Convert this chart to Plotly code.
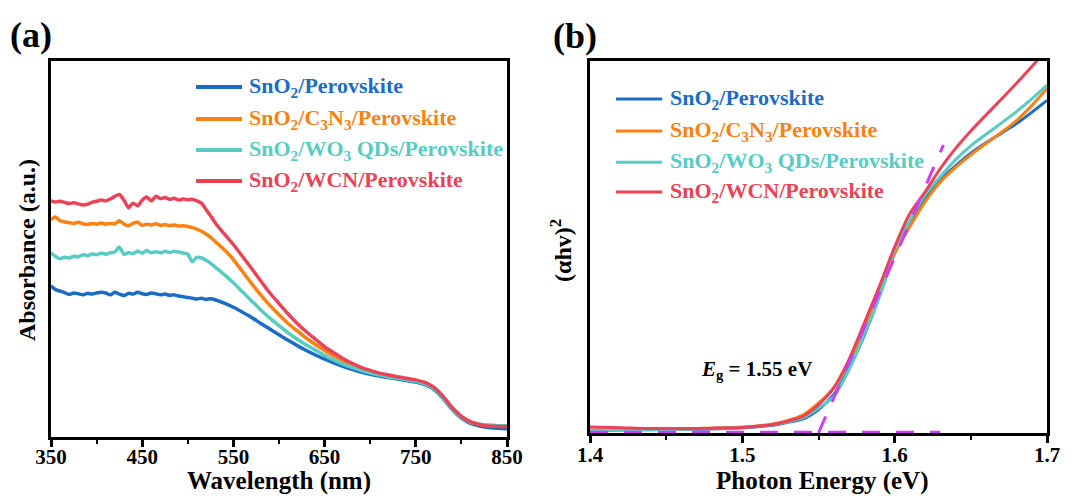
import plotly.graph_objects as go

# ---------------- data ----------------
# (a) UV-vis absorbance spectra
wavelength = [350, 355, 360, 365, 370, 375, 380, 385, 390, 395, 400, 405, 410, 415, 420,
              425, 430, 435, 440, 445, 450, 455, 460, 465, 470, 475, 480, 485, 490, 495,
              500, 505, 510, 515, 520, 525, 530, 540, 550, 560, 570, 580, 590, 600, 610,
              620, 630, 640, 650, 660, 670, 680, 690, 700, 710, 720, 730, 740, 750, 760,
              770, 780, 790, 800, 810, 820, 830, 840, 850]

abs_sno2 = [0.402, 0.392, 0.388, 0.384, 0.379, 0.383, 0.381, 0.378, 0.382, 0.380, 0.383, 0.385,
            0.383, 0.378, 0.385, 0.380, 0.376, 0.382, 0.380, 0.385, 0.381, 0.379, 0.383, 0.381,
            0.378, 0.380, 0.377, 0.378, 0.375, 0.373, 0.371, 0.369, 0.367, 0.369, 0.366, 0.368,
            0.365, 0.356, 0.345, 0.332, 0.318, 0.302, 0.287, 0.272, 0.257, 0.243, 0.230, 0.218,
            0.207, 0.197, 0.188, 0.180, 0.173, 0.167, 0.162, 0.158, 0.154, 0.150, 0.146, 0.139,
            0.126, 0.102, 0.073, 0.050, 0.036, 0.029, 0.025, 0.023, 0.022]

abs_c3n3 = [0.578, 0.585, 0.575, 0.572, 0.570, 0.568, 0.571, 0.567, 0.565, 0.568, 0.566, 0.569,
            0.566, 0.568, 0.567, 0.575, 0.566, 0.562, 0.568, 0.571, 0.563, 0.566, 0.564, 0.567,
            0.563, 0.565, 0.562, 0.564, 0.561, 0.562, 0.560, 0.557, 0.553, 0.547, 0.540, 0.531,
            0.520, 0.498, 0.472, 0.440, 0.408, 0.378, 0.350, 0.325, 0.302, 0.282, 0.263, 0.246,
            0.230, 0.216, 0.203, 0.191, 0.182, 0.174, 0.168, 0.163, 0.158, 0.154, 0.150, 0.143,
            0.130, 0.106, 0.077, 0.054, 0.040, 0.034, 0.031, 0.030, 0.030]

abs_wo3 = [0.490, 0.480, 0.474, 0.478, 0.476, 0.481, 0.479, 0.485, 0.482, 0.487, 0.485, 0.489,
           0.486, 0.490, 0.492, 0.505, 0.486, 0.490, 0.488, 0.494, 0.489, 0.496, 0.490, 0.493,
           0.490, 0.494, 0.491, 0.494, 0.492, 0.489, 0.486, 0.466, 0.478, 0.476, 0.470, 0.462,
           0.452, 0.432, 0.410, 0.386, 0.362, 0.338, 0.316, 0.296, 0.277, 0.260, 0.245, 0.231,
           0.217, 0.205, 0.194, 0.185, 0.177, 0.170, 0.165, 0.160, 0.156, 0.152, 0.148, 0.141,
           0.128, 0.104, 0.075, 0.052, 0.039, 0.034, 0.031, 0.030, 0.030]

abs_wcn = [0.628, 0.625, 0.627, 0.624, 0.621, 0.623, 0.620, 0.617, 0.619, 0.624, 0.627, 0.630,
           0.628, 0.633, 0.640, 0.645, 0.630, 0.610, 0.622, 0.615, 0.630, 0.638, 0.628, 0.640,
           0.634, 0.637, 0.632, 0.635, 0.630, 0.633, 0.631, 0.632, 0.628, 0.622, 0.605, 0.588,
           0.570, 0.540, 0.512, 0.480, 0.448, 0.415, 0.383, 0.355, 0.327, 0.302, 0.280, 0.260,
           0.240, 0.224, 0.209, 0.196, 0.185, 0.177, 0.170, 0.165, 0.160, 0.156, 0.152, 0.145,
           0.132, 0.108, 0.078, 0.055, 0.040, 0.033, 0.029, 0.028, 0.028]

# (b) Tauc plot, (alpha*h*nu)^2 vs photon energy
energy = [1.40, 1.42, 1.44, 1.46, 1.48, 1.50, 1.51, 1.52, 1.53, 1.54, 1.55, 1.56, 1.57,
          1.58, 1.59, 1.60, 1.61, 1.62, 1.63, 1.64, 1.65, 1.66, 1.67, 1.68, 1.69, 1.70]

tauc_sno2 = [0.007, 0.008, 0.009, 0.010, 0.011, 0.014, 0.017, 0.021, 0.029, 0.038, 0.063,
             0.103, 0.174, 0.262, 0.368, 0.483, 0.564, 0.631, 0.680, 0.718, 0.752, 0.780,
             0.806, 0.832, 0.862, 0.894]
tauc_c3n3 = [0.008, 0.009, 0.010, 0.011, 0.013, 0.016, 0.019, 0.024, 0.034, 0.049, 0.080,
             0.121, 0.192, 0.280, 0.378, 0.483, 0.555, 0.622, 0.675, 0.714, 0.748, 0.778,
             0.808, 0.840, 0.880, 0.926]
tauc_wo3 = [0.007, 0.008, 0.009, 0.010, 0.012, 0.015, 0.018, 0.022, 0.030, 0.041, 0.067,
            0.098, 0.170, 0.264, 0.367, 0.492, 0.572, 0.640, 0.689, 0.735, 0.772, 0.803,
            0.833, 0.864, 0.898, 0.935]
tauc_wcn = [0.016, 0.014, 0.012, 0.012, 0.013, 0.015, 0.018, 0.023, 0.032, 0.045, 0.076,
            0.121, 0.197, 0.295, 0.394, 0.500, 0.590, 0.648, 0.711, 0.765, 0.812, 0.855,
            0.897, 0.940, 0.985, 1.030]

# band-gap extrapolation
EG = 1.55
tangent_slope = 9.44
tangent_end = 1.632
baseline_x = [1.40, 1.63]
baseline_y = [0.002, 0.002]

series_names = [
    "SnO<sub>2</sub>/Perovskite",
    "SnO<sub>2</sub>/C<sub>3</sub>N<sub>3</sub>/Perovskite",
    "SnO<sub>2</sub>/WO<sub>3</sub> QDs/Perovskite",
    "SnO<sub>2</sub>/WCN/Perovskite",
]
series_colors = ["#1a6cc4", "#fb8112", "#58cbc3", "#ea4257"]
abs_series = [abs_sno2, abs_c3n3, abs_wo3, abs_wcn]
tauc_series = [tauc_sno2, tauc_c3n3, tauc_wo3, tauc_wcn]

# ---------------- figure ----------------
FONT = "Liberation Serif, Times New Roman, serif"
W, H = 1072, 499

fig = go.Figure()

for name, color, ys in zip(series_names, series_colors, abs_series):
    fig.add_trace(go.Scatter(x=wavelength, y=ys, mode="lines", name=name,
                             line=dict(color=color, width=3.5, shape="spline", smoothing=0.6),
                             showlegend=False, xaxis="x", yaxis="y"))

for name, color, ys in zip(series_names, series_colors, tauc_series):
    fig.add_trace(go.Scatter(x=energy, y=ys, mode="lines", name=name,
                             line=dict(color=color, width=3, shape="spline", smoothing=0.8),
                             showlegend=False, xaxis="x2", yaxis="y2"))

magenta = "#d03cf4"
fig.add_trace(go.Scatter(x=baseline_x, y=baseline_y, mode="lines",
                         line=dict(color=magenta, width=3, dash="18px,16px"),
                         showlegend=False, xaxis="x2", yaxis="y2"))
fig.add_trace(go.Scatter(x=[EG, tangent_end], y=[0, tangent_slope * (tangent_end - EG)],
                         mode="lines", line=dict(color=magenta, width=3, dash="18px,16px"),
                         showlegend=False, xaxis="x2", yaxis="y2"))

# panel boxes (pixel positions)
L_box = dict(x0=51, x1=507, y0=61, y1=437)
R_box = dict(x0=590, x1=1047, y0=61, y1=433)


def xdom(b):
    return [b["x0"] / W, b["x1"] / W]


def ydom(b):
    return [1 - b["y1"] / H, 1 - b["y0"] / H]


tickfont = dict(family=FONT, size=21, color="black", weight="bold")
axis_common = dict(showline=True, linewidth=3, linecolor="black", mirror=True,
                   showgrid=False, zeroline=False, automargin=False)

fig.update_layout(
    width=W, height=H,
    margin=dict(l=0, r=0, t=0, b=0, autoexpand=False),
    paper_bgcolor="white", plot_bgcolor="white",
    xaxis=dict(domain=xdom(L_box), range=[350, 850], tick0=350, dtick=100,
               ticks="outside", ticklen=7, tickwidth=2.5, tickcolor="black",
               ticklabelstandoff=-8,
               minor=dict(dtick=50, tick0=350, ticks="outside", ticklen=4, tickwidth=2,
                          tickcolor="black"),
               tickfont=tickfont, anchor="y", **axis_common),
    yaxis=dict(domain=ydom(L_box), range=[0, 1], showticklabels=False, ticks="",
               anchor="x", **axis_common),
    xaxis2=dict(domain=xdom(R_box), range=[1.4, 1.7], tick0=1.4, dtick=0.1,
                tickformat=".1f", ticks="outside", ticklen=7, tickwidth=2.5,
                tickcolor="black", ticklabelstandoff=-6,
                minor=dict(dtick=0.05, tick0=1.4, ticks="outside", ticklen=4, tickwidth=2,
                           tickcolor="black"),
                tickfont=tickfont, anchor="y2", **axis_common),
    yaxis2=dict(domain=ydom(R_box), range=[0, 1], showticklabels=False, ticks="",
                anchor="x2", **axis_common),
)

annotations = []
shapes = []


def text(x, y, s, size, xref="paper", yref="paper", xanchor="center", yanchor="middle",
         color="black", angle=0):
    annotations.append(dict(x=x, y=y, xref=xref, yref=yref, text=s, showarrow=False,
                            xanchor=xanchor, yanchor=yanchor, textangle=angle,
                            font=dict(family=FONT, size=size, color=color, weight="bold")))


# panel labels
text(31 / W, 1 - 35 / H, "(a)", 36)
text(575 / W, 1 - 36 / H, "(b)", 36)

# axis titles
text(279 / W, 1 - 481 / H, "Wavelength (nm)", 25)
text(822 / W, 1 - 481 / H, "Photon Energy (eV)", 25)
text(27 / W, 1 - 250 / H, "Absorbance (a.u.)", 24, angle=-90)
text(561 / W, 1 - 251 / H, "(αhv)<sup>2</sup>", 24, angle=-90)

# band-gap label
text(1.5096, 0.169, "<i>E</i><sub>g</sub> = %.2f eV" % EG, 21, xref="x2", yref="y2 domain")

# in-plot legends, drawn per panel
legend_specs = [
    ("x", "y", 0.318, 0.419, 0.430, [0.931, 0.846, 0.763, 0.681], 4),
    ("x2", "y2", 0.057, 0.158, 0.171, [0.898, 0.812, 0.728, 0.648], 3),
]
for xa, ya, lx0, lx1, tx, rows, lw in legend_specs:
    for name, color, ry in zip(series_names, series_colors, rows):
        shapes.append(dict(type="line", xref=xa + " domain", yref=ya + " domain",
                           x0=lx0, x1=lx1, y0=ry, y1=ry,
                           line=dict(color=color, width=lw)))
        text(tx, ry, name, 22, xref=xa + " domain", yref=ya + " domain",
             xanchor="left", color=color)

fig.update_layout(annotations=annotations, shapes=shapes)

fig.write_html("out.html")
